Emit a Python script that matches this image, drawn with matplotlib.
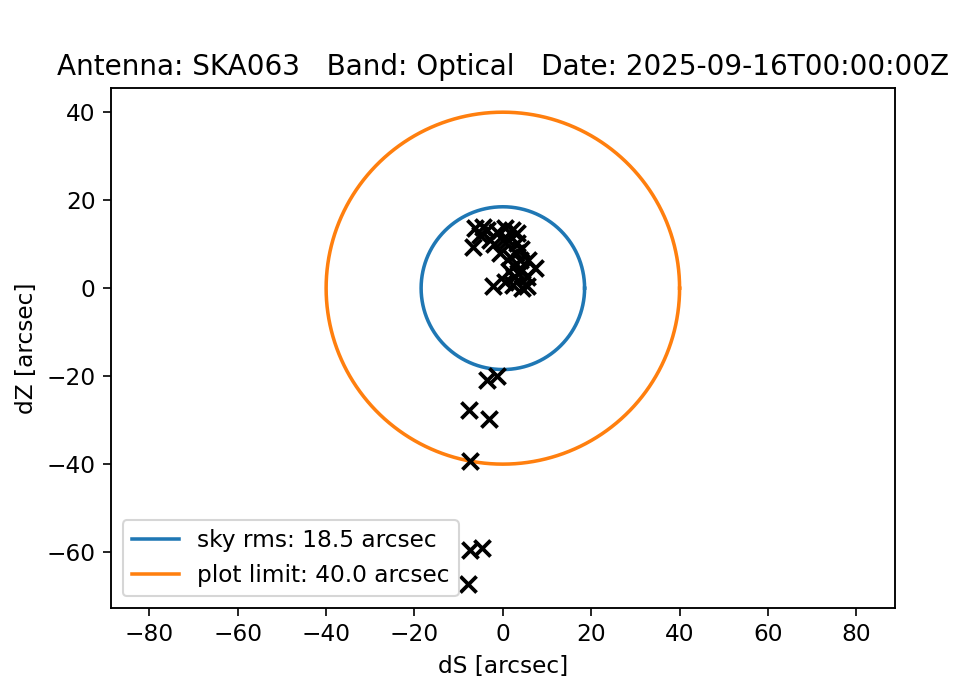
import numpy as np
import matplotlib
matplotlib.use("Agg")
import matplotlib.pyplot as plt

# pointing offsets (arcsec)
dS = [-6.3, -4.5, -3.6, -5.2, -6.8, -1.4, 0.5, 2.0, 3.2, 1.1, 3.2, -0.7, 1.6, 3.8, 5.7,
      7.2, 4.3, 5.4, -2.3, 0.5, 2.3, 4.3, 5.4, 2.5, 3.0, 1.5, 4.0, -2.0, 0.0, 2.5, 3.5, -3.0,
      -3.7, -1.4, -7.7, -3.2, -7.5, -7.5, -4.8, -8.0]
dZ = [13.6, 13.9, 13.2, 12.0, 9.3, 12.7, 13.6, 13.2, 12.5, 10.9, 10.2, 8.0, 7.0, 6.4, 6.4,
      4.5, 4.1, 2.5, 0.5, 1.4, 0.7, 0.0, 0.5, 5.0, 8.0, 4.0, 9.0, 10.0, 11.0, 2.5, 3.5, 11.0,
      -20.9, -20.0, -27.6, -29.8, -39.3, -59.5, -59.0, -67.3]
sky_rms = 18.5
plot_limit = 40.0
antenna = "SKA063"
band = "Optical"
date = "2025-09-16T00:00:00Z"

fs = 11.2
plt.rcParams.update({'font.size': fs, 'xtick.labelsize': fs, 'ytick.labelsize': fs,
                     'axes.labelsize': fs, 'legend.fontsize': fs,
                     'xtick.major.size': 3.9, 'ytick.major.size': 3.9,
                     'axes.linewidth': 0.9})

fig = plt.figure(figsize=(959/150, 680/150), dpi=150)
ax = fig.add_axes([0.1157, 0.1059, 0.8173, 0.7647])

theta = np.linspace(0, 2*np.pi, 361)
ax.plot(sky_rms*np.cos(theta), sky_rms*np.sin(theta), color='C0', lw=1.7,
        label=f"sky rms: {sky_rms:.1f} arcsec")
ax.plot(plot_limit*np.cos(theta), plot_limit*np.sin(theta), color='C1', lw=1.7,
        label=f"plot limit: {plot_limit:.1f} arcsec")
ax.scatter(dS, dZ, marker='x', color='k', s=60, linewidths=1.8, zorder=3)

ax.set_xlim(-88.7, 88.7)
ax.set_ylim(-72.7, 45.5)
ax.set_xticks(np.arange(-80, 81, 20))
ax.set_yticks(np.arange(-60, 41, 20))
ax.set_xlabel("dS [arcsec]")
ax.set_ylabel("dZ [arcsec]")
ax.set_title(f"Antenna: {antenna}   Band: {band}   Date: {date}", fontsize=13.4)
ax.legend(loc='lower left')

fig.savefig("out.png", dpi=150)
